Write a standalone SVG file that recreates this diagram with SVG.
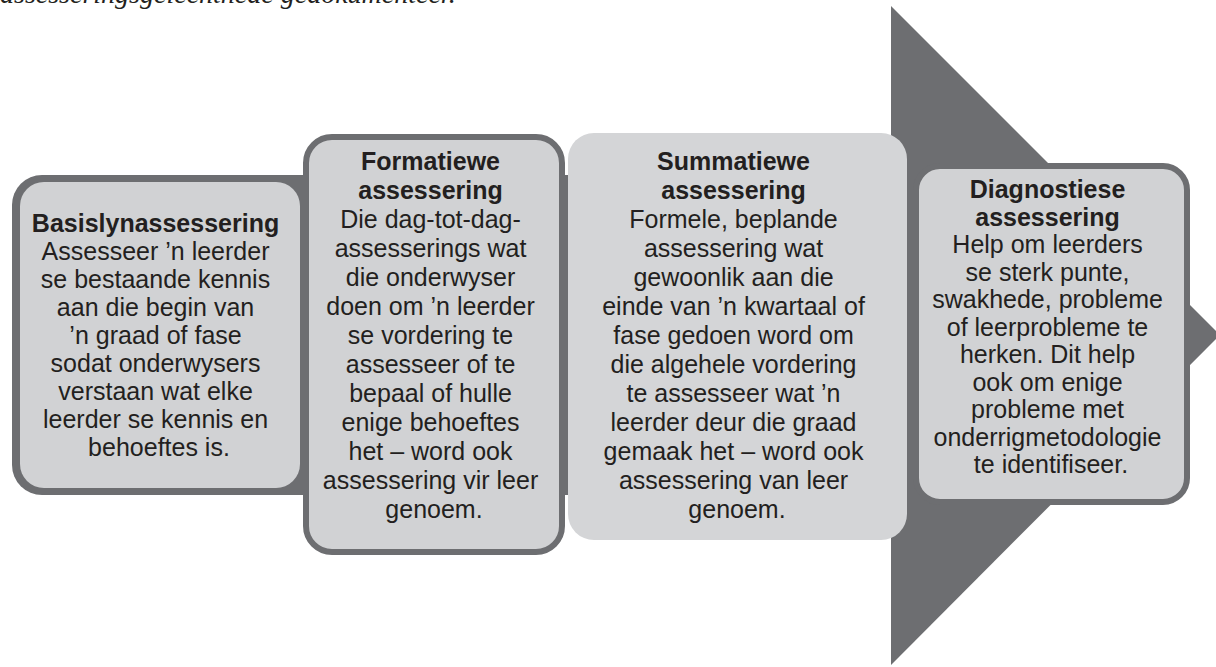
<svg xmlns="http://www.w3.org/2000/svg" width="1216" height="667" viewBox="0 0 1216 667">
  <style>
    .dark { fill: #6d6e71; }
    .box { fill: #d1d2d4; }
    .boxb { fill: #d1d2d4; stroke: #6d6e71; stroke-width: 6; }
    .txt { font-family: "Liberation Sans", Arial, sans-serif; font-size: 25px; fill: #231f20; text-anchor: middle; }
    .b { font-weight: bold; }
    .cap { font-family: "Liberation Serif", "Times New Roman", serif; font-style: italic; font-size: 28px; fill: #231f20; }
  </style>
  <rect width="1216" height="667" fill="#ffffff"/>
  <text class="cap" x="0" y="3">assesseringsgeleenthede gedokumenteer.</text>

  <g id="arrow">
    <path class="dark" d="M42,175 H900 V495 H42 A30,30 0 0 1 12,465 V205 A30,30 0 0 1 42,175 Z"/>
    <polygon class="dark" points="891,6 891,665 1220,335"/>
  </g>

  <g id="basislyn">
    <rect class="box" x="20" y="182" width="280" height="306" rx="24"/>
    <text class="txt" x="159" y="232">
      <tspan class="b" x="159">Basislynassessering</tspan>
      <tspan x="159" dy="28">Assesseer ’n leerder</tspan>
      <tspan x="159" dy="28">se bestaande kennis</tspan>
      <tspan x="159" dy="28">aan die begin van</tspan>
      <tspan x="159" dy="28">’n graad of fase</tspan>
      <tspan x="159" dy="28">sodat onderwysers</tspan>
      <tspan x="159" dy="28">verstaan wat elke</tspan>
      <tspan x="159" dy="28">leerder se kennis en</tspan>
      <tspan x="159" dy="28">behoeftes is.</tspan>
    </text>
  </g>

  <g id="formatiewe">
    <rect class="boxb" x="306" y="137" width="256" height="415" rx="26"/>
    <text class="txt" x="434" y="170">
      <tspan class="b" x="434">Formatiewe</tspan>
      <tspan class="b" x="434" dy="29">assessering</tspan>
      <tspan x="434" dy="29">Die dag-tot-dag-</tspan>
      <tspan x="434" dy="29">assesserings wat</tspan>
      <tspan x="434" dy="29">die onderwyser</tspan>
      <tspan x="434" dy="29">doen om ’n leerder</tspan>
      <tspan x="434" dy="29">se vordering te</tspan>
      <tspan x="434" dy="29">assesseer of te</tspan>
      <tspan x="434" dy="29">bepaal of hulle</tspan>
      <tspan x="434" dy="29">enige behoeftes</tspan>
      <tspan x="434" dy="29">het – word ook</tspan>
      <tspan x="434" dy="29">assessering vir leer</tspan>
      <tspan x="434" dy="29">genoem.</tspan>
    </text>
  </g>

  <g id="summatiewe">
    <rect class="box" x="568" y="133" width="339" height="407" rx="26" style="fill:#d4d5d7"/>
    <text class="txt" x="737" y="170">
      <tspan class="b" x="737">Summatiewe</tspan>
      <tspan class="b" x="737" dy="29">assessering</tspan>
      <tspan x="737" dy="29">Formele, beplande</tspan>
      <tspan x="737" dy="29">assessering wat</tspan>
      <tspan x="737" dy="29">gewoonlik aan die</tspan>
      <tspan x="737" dy="29">einde van ’n kwartaal of</tspan>
      <tspan x="737" dy="29">fase gedoen word om</tspan>
      <tspan x="737" dy="29">die algehele vordering</tspan>
      <tspan x="737" dy="29">te assesseer wat ’n</tspan>
      <tspan x="737" dy="29">leerder deur die graad</tspan>
      <tspan x="737" dy="29">gemaak het – word ook</tspan>
      <tspan x="737" dy="29">assessering van leer</tspan>
      <tspan x="737" dy="29">genoem.</tspan>
    </text>
  </g>

  <g id="diagnostiese">
    <rect class="boxb" x="916" y="166" width="271" height="336" rx="24"/>
    <text class="txt" x="1051" y="198">
      <tspan class="b" x="1051">Diagnostiese</tspan>
      <tspan class="b" x="1051" dy="27.5">assessering</tspan>
      <tspan x="1051" dy="27.5">Help om leerders</tspan>
      <tspan x="1051" dy="27.5">se sterk punte,</tspan>
      <tspan x="1051" dy="27.5">swakhede, probleme</tspan>
      <tspan x="1051" dy="27.5">of leerprobleme te</tspan>
      <tspan x="1051" dy="27.5">herken. Dit help</tspan>
      <tspan x="1051" dy="27.5">ook om enige</tspan>
      <tspan x="1051" dy="27.5">probleme met</tspan>
      <tspan x="1051" dy="27.5">onderrigmetodologie</tspan>
      <tspan x="1051" dy="27.5">te identifiseer.</tspan>
    </text>
  </g>
</svg>
